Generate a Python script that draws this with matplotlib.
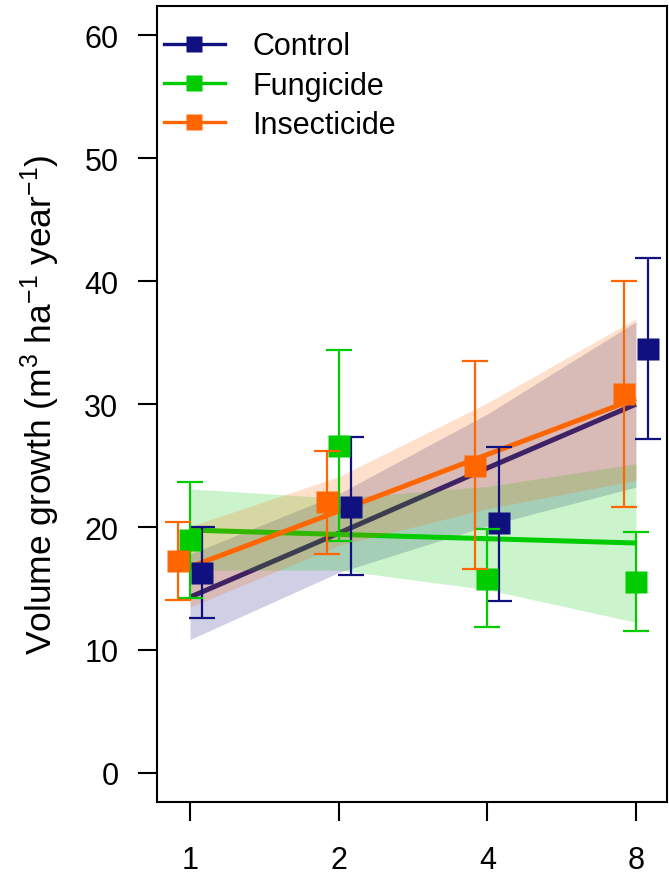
import matplotlib
matplotlib.use("Agg")
import matplotlib.pyplot as plt
from matplotlib.lines import Line2D
from matplotlib.ticker import FixedLocator, FixedFormatter, NullLocator
import numpy as np

plt.rcParams['font.family'] = ['Liberation Sans', 'DejaVu Sans']
plt.rcParams['mathtext.fontset'] = 'custom'
plt.rcParams['mathtext.rm'] = 'Liberation Sans'
plt.rcParams['mathtext.it'] = 'Liberation Sans:italic'
plt.rcParams['mathtext.bf'] = 'Liberation Sans:bold'

# ---------------- data ----------------
treatments = ["Control", "Fungicide", "Insecticide"]
levels = [1, 2, 4, 8]
tick_labels = ["1", "2", "4", "8"]

# means and error-bar limits per treatment
control_mean = [16.3, 21.65, 20.3, 34.5]
control_low = [12.6, 16.1, 14.0, 27.2]
control_high = [20.0, 27.3, 26.55, 41.9]

fungicide_mean = [18.95, 26.6, 15.8, 15.55]
fungicide_low = [14.25, 18.9, 11.85, 11.5]
fungicide_high = [23.65, 34.4, 19.85, 19.6]

insecticide_mean = [17.2, 22.0, 25.0, 30.8]
insecticide_low = [14.05, 17.8, 16.55, 21.6]
insecticide_high = [20.4, 26.2, 33.5, 40.05]

# fitted regression line (values at levels) and confidence band
control_fit = [14.3, 19.5, 24.8, 30.0]
control_band_low = [10.85, 16.3, 20.1, 23.25]
control_band_high = [17.8, 22.7, 29.2, 36.7]

fungicide_fit = [19.75, 19.4, 19.05, 18.7]
fungicide_band_low = [16.5, 16.5, 14.9, 12.25]
fungicide_band_high = [23.1, 22.35, 23.3, 25.15]

insecticide_fit = [16.75, 21.3, 25.9, 30.45]
insecticide_band_low = [13.5, 18.5, 21.5, 23.8]
insecticide_band_high = [20.05, 24.1, 30.1, 36.95]

# ---------------- style ----------------
colors = ["#10107f", "#00cc00", "#ff6600"]
dodge = [2 ** 0.081, 1.0, 2 ** -0.081]   # multiplicative horizontal dodge on log axis

means = [control_mean, fungicide_mean, insecticide_mean]
lows = [control_low, fungicide_low, insecticide_low]
highs = [control_high, fungicide_high, insecticide_high]
fits = [control_fit, fungicide_fit, insecticide_fit]
blows = [control_band_low, fungicide_band_low, insecticide_band_low]
bhighs = [control_band_high, fungicide_band_high, insecticide_band_high]

W, H = 669, 878
fig = plt.figure(figsize=(W / 100, H / 100), dpi=100)
ax_l, ax_r, ax_b, ax_t = 156.5, 667, 803.3, 7
ax = fig.add_axes([ax_l / W, (H - ax_b) / H, (ax_r - ax_l) / W, (ax_b - ax_t) / H])

ax.set_xscale('log', base=2)
x = np.array(levels, dtype=float)

# regression lines then bands (per treatment, in order)
for i in range(3):
    ax.plot(x, fits[i], color=colors[i], lw=3.6, solid_capstyle='butt', zorder=2 + 2 * i)
    ax.fill_between(x, blows[i], bhighs[i], color=colors[i], alpha=0.2, lw=0, zorder=3 + 2 * i)

# points with error bars
for i in range(3):
    xi = x * dodge[i]
    m = np.array(means[i])
    yerr = np.vstack([m - np.array(lows[i]), np.array(highs[i]) - m])
    ax.errorbar(xi, m, yerr=yerr, fmt='none', ecolor=colors[i], elinewidth=1.6,
                capsize=9.4, capthick=1.6, zorder=10 + i)
    ax.plot(xi, m, ls='none', marker='s', ms=15.8, mfc=colors[i], mec='none', zorder=10.5 + i)

ax.set_xlim(2 ** -0.226, 2 ** 3.209)
ax.set_ylim(-2.4, 62.4)
ax.xaxis.set_major_locator(FixedLocator(levels))
ax.xaxis.set_major_formatter(FixedFormatter(tick_labels))
ax.xaxis.set_minor_locator(NullLocator())
ax.set_yticks([0, 10, 20, 30, 40, 50, 60])

for s in ax.spines.values():
    s.set_linewidth(1.5)
ax.tick_params(axis='both', length=13.9, width=1.5, labelsize=22, direction='out')
ax.tick_params(axis='y', pad=13.5)
ax.tick_params(axis='x', pad=17)

ax.set_ylabel("Volume growth (m$^{3}$ ha$^{-1}$ year$^{-1}$)", fontsize=25.5)
ax.yaxis.label.set_va('center')
ax.yaxis.set_label_coords(-0.228, 0.5)

handles = [Line2D([], [], color=colors[i], lw=2.4, marker='s', ms=11, mec='none')
           for i in range(3)]
ax.legend(handles, treatments, loc='upper left', frameon=False, fontsize=22,
          bbox_to_anchor=(0.014, 0.968), borderaxespad=0, borderpad=0,
          handlelength=2.0, handletextpad=0.9, labelspacing=0.30)

fig.savefig("out.png", dpi=100)
